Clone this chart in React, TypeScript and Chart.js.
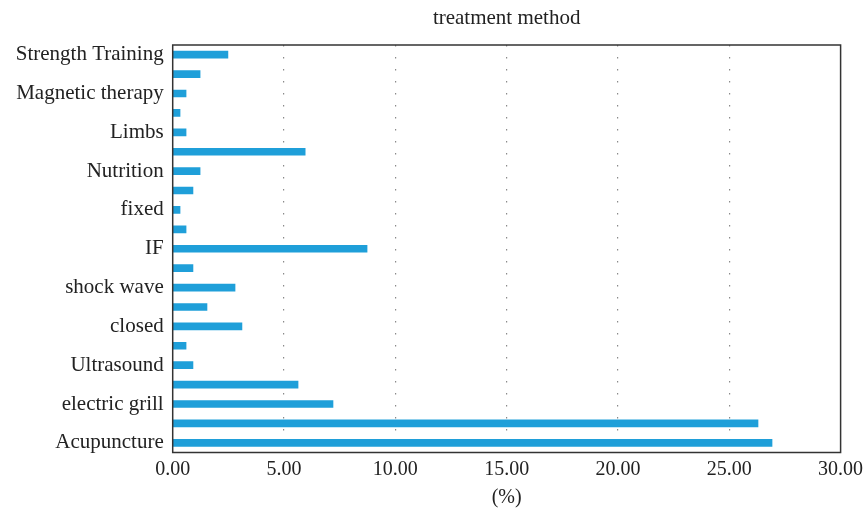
import React, { useEffect, useRef } from 'react';
import { Chart, registerables } from 'chart.js';

Chart.register(...registerables);

const categories = [
  'Strength Training', '', 'Magnetic therapy', '', 'Limbs', '', 'Nutrition', '',
  'fixed', '', 'IF', '', 'shock wave', '', 'closed', '', 'Ultrasound', '',
  'electric grill', '', 'Acupuncture',
];
const percentages = [
  2.48, 1.23, 0.6, 0.33, 0.6, 5.95, 1.23, 0.91, 0.33, 0.6, 8.73, 0.91, 2.8, 1.54,
  3.11, 0.6, 0.91, 5.63, 7.2, 26.29, 26.92,
];
const xTicks = [0, 5, 10, 15, 20, 25, 30];
const chartTitle = 'treatment method';
const xAxisTitle = '(%)';

const FONT = '"Liberation Serif", "Times New Roman", serif';
const TEXT = '#222222';

export default function App() {
  const ref = useRef<HTMLCanvasElement | null>(null);

  useEffect(() => {
    if (!ref.current) return;
    const framePlugin = {
      id: 'frameAndTitle',
      afterDraw(chart: any) {
        const { ctx, chartArea } = chart;
        const { left, right, top, bottom } = chartArea;
        ctx.save();
        ctx.strokeStyle = '#333333';
        ctx.lineWidth = 1.5;
        ctx.strokeRect(left, top, right - left, bottom - top);
        ctx.font = `21px ${FONT}`;
        ctx.fillStyle = TEXT;
        ctx.textAlign = 'center';
        ctx.textBaseline = 'middle';
        ctx.fillText(chartTitle, (left + right) / 2, 18);
        ctx.restore();
      },
    };

    const chart = new Chart(ref.current, {
      type: 'bar',
      data: {
        labels: categories,
        datasets: [
          {
            data: percentages,
            backgroundColor: '#1f9fd9',
            borderWidth: 0,
            barThickness: 7,
          },
        ],
      },
      options: {
        indexAxis: 'y',
        animation: false,
        responsive: false,
        layout: { padding: { top: 45, right: 23.4, left: 0, bottom: 0 } },
        plugins: {
          legend: { display: false },
          tooltip: { enabled: false },
          title: { display: false },
        },
        scales: {
          x: {
            type: 'linear',
            min: 0,
            max: 30,
            afterBuildTicks: (scale: any) => {
              scale.ticks = xTicks.map((v) => ({ value: v }));
            },
            afterFit: (scale: any) => {
              scale.height = 61.5;
              scale.paddingLeft = 0;
              scale.paddingRight = 0;
            },
            ticks: {
              padding: 5,
              color: TEXT,
              font: { family: FONT, size: 20 },
              callback: (v: any) => Number(v).toFixed(2),
            },
            grid: {
              drawTicks: false,
              lineWidth: 1.2,
              color: (ctx: any) =>
                ctx.tick && (ctx.tick.value === 0 || ctx.tick.value === 30)
                  ? 'rgba(0,0,0,0)'
                  : '#8a8a8a',
            },
            border: { display: false, dash: [1.5, 10.5] },
            title: {
              display: true,
              text: xAxisTitle,
              color: TEXT,
              font: { family: FONT, size: 20 },
              padding: { top: 0, bottom: 4 },
            },
          },
          y: {
            type: 'category',
            afterFit: (scale: any) => {
              scale.width = 172.7;
            },
            ticks: {
              autoSkip: false,
              padding: 9,
              color: TEXT,
              font: { family: FONT, size: 21 },
            },
            grid: { display: false, drawTicks: false },
            border: { display: false },
          },
        },
      },
      plugins: [framePlugin],
    } as any);

    return () => chart.destroy();
  }, []);

  return (
    <div style={{ position: 'absolute', left: 0, top: 0, width: 864, height: 514, background: '#fff' }}>
      <canvas ref={ref} width={864} height={514} />
    </div>
  );
}
